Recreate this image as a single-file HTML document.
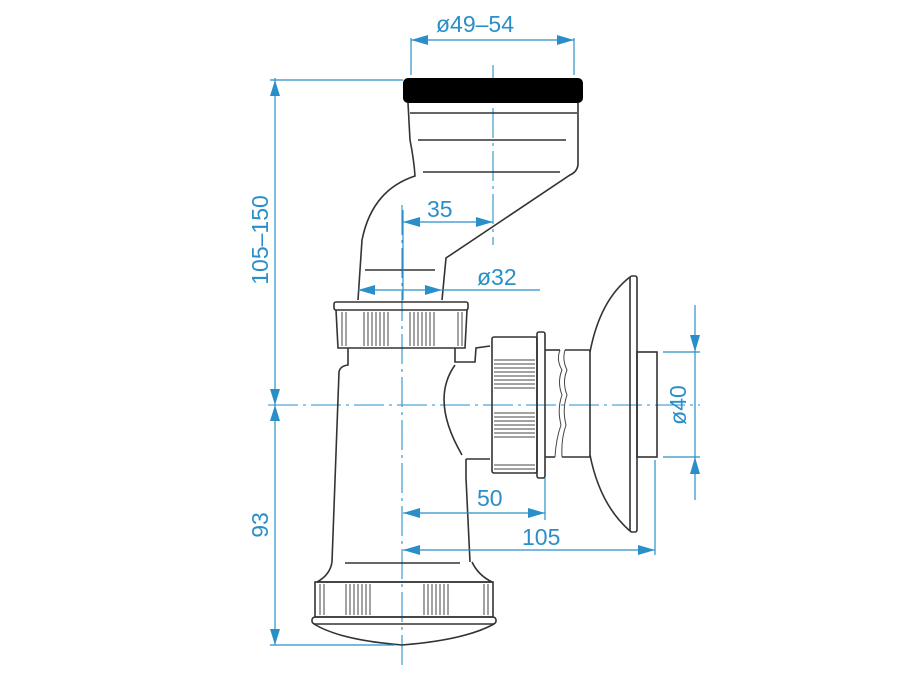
<!DOCTYPE html>
<html><head><meta charset="utf-8"><style>
html,body{margin:0;padding:0;background:#fff}
svg{display:block}
.k{fill:none;stroke:#333;stroke-width:1.6}
.t{fill:none;stroke:#444;stroke-width:1}
.b{fill:none;stroke:#2a8fc9;stroke-width:1.2}
.c{fill:none;stroke:#2a8fc9;stroke-width:1.1;stroke-dasharray:30 5 3 5}
.a{fill:#2a8fc9}
text{font-family:"Liberation Sans",sans-serif;fill:#2a8fc9;font-size:23px}
</style></head><body>
<svg width="900" height="675" viewBox="0 0 900 675" xmlns="http://www.w3.org/2000/svg">
<line class="c" x1="493" y1="65" x2="493" y2="245"/>
<line class="c" x1="402" y1="205" x2="402" y2="668"/>
<line class="c" x1="268" y1="405" x2="700" y2="405"/>

<rect x="403" y="78" width="180" height="25" rx="5" fill="#000"/>
<path class="k" d="M408 103 L410 140 Q414 160 415 176 Q372 190 362 240 L358 300"/>
<path class="k" d="M578 103 L578 165 Q577 172 570 175 L446 258 L442 300"/>
<line class="k" x1="410" y1="113" x2="577" y2="113"/>
<line class="k" x1="418" y1="140" x2="566" y2="140"/>
<line class="k" x1="423" y1="172" x2="560" y2="172"/>
<line class="k" x1="365" y1="270" x2="435" y2="270"/>

<rect class="k" x="334" y="302" width="134" height="8" rx="2"/>
<path class="k" d="M336 310 L338 348 L465 348 L467 310"/>
<g class="t">
<line x1="342" y1="312" x2="342" y2="346"/><line x1="346" y1="312" x2="346" y2="346"/>
<line x1="364" y1="312" x2="364" y2="346"/><line x1="368" y1="312" x2="368" y2="346"/><line x1="372" y1="312" x2="372" y2="346"/><line x1="376" y1="312" x2="376" y2="346"/><line x1="380" y1="312" x2="380" y2="346"/><line x1="384" y1="312" x2="384" y2="346"/><line x1="388" y1="312" x2="388" y2="346"/>
<line x1="410" y1="312" x2="410" y2="346"/><line x1="414" y1="312" x2="414" y2="346"/><line x1="418" y1="312" x2="418" y2="346"/><line x1="422" y1="312" x2="422" y2="346"/><line x1="426" y1="312" x2="426" y2="346"/><line x1="430" y1="312" x2="430" y2="346"/><line x1="434" y1="312" x2="434" y2="346"/>
<line x1="458" y1="312" x2="458" y2="346"/><line x1="462" y1="312" x2="462" y2="346"/>
</g>
<path class="k" d="M348 348 L348 365 Q340 366 339 372 L332 562"/>
<path class="k" d="M455 348 L455 362 L475 362 L476 348 L490 346"/>
<path class="k" d="M455 365 Q430 400 462 455"/>
<path class="k" d="M466 459 L466 478 L470 562"/>
<line class="k" x1="490" y1="459" x2="466" y2="459"/>
<line class="k" x1="345" y1="563" x2="460" y2="563"/>
<path class="k" d="M332 562 Q330 575 317 582 L492 582 Q478 575 472 562"/>
<rect class="k" x="315" y="582" width="178" height="35"/>
<rect class="k" x="312" y="617" width="184" height="7" rx="3"/>
<path class="k" d="M314 624 Q340 640 402 645 Q465 640 494 624"/>
<g class="t">
<line x1="320" y1="584" x2="320" y2="615"/><line x1="324" y1="584" x2="324" y2="615"/>
<line x1="346" y1="584" x2="346" y2="615"/><line x1="350" y1="584" x2="350" y2="615"/><line x1="354" y1="584" x2="354" y2="615"/><line x1="358" y1="584" x2="358" y2="615"/><line x1="362" y1="584" x2="362" y2="615"/><line x1="366" y1="584" x2="366" y2="615"/><line x1="370" y1="584" x2="370" y2="615"/>
<line x1="424" y1="584" x2="424" y2="615"/><line x1="428" y1="584" x2="428" y2="615"/><line x1="432" y1="584" x2="432" y2="615"/><line x1="436" y1="584" x2="436" y2="615"/><line x1="440" y1="584" x2="440" y2="615"/><line x1="444" y1="584" x2="444" y2="615"/><line x1="448" y1="584" x2="448" y2="615"/>
<line x1="484" y1="584" x2="484" y2="615"/><line x1="488" y1="584" x2="488" y2="615"/>
</g>

<rect class="k" x="492" y="337" width="45" height="136" rx="2"/>
<rect class="k" x="537" y="332" width="8" height="146" rx="2"/>
<g class="t">
<line x1="494" y1="360" x2="535" y2="360"/><line x1="494" y1="364" x2="535" y2="364"/><line x1="494" y1="368" x2="535" y2="368"/><line x1="494" y1="372" x2="535" y2="372"/><line x1="494" y1="376" x2="535" y2="376"/><line x1="494" y1="380" x2="535" y2="380"/><line x1="494" y1="384" x2="535" y2="384"/><line x1="494" y1="388" x2="535" y2="388"/>
<line x1="494" y1="413" x2="535" y2="413"/><line x1="494" y1="417" x2="535" y2="417"/><line x1="494" y1="421" x2="535" y2="421"/><line x1="494" y1="425" x2="535" y2="425"/><line x1="494" y1="429" x2="535" y2="429"/><line x1="494" y1="433" x2="535" y2="433"/><line x1="494" y1="437" x2="535" y2="437"/>
<line x1="494" y1="465" x2="535" y2="465"/><line x1="494" y1="469" x2="535" y2="469"/>
</g>
<line class="k" x1="545" y1="350" x2="560" y2="350"/>
<line class="k" x1="545" y1="457" x2="555" y2="457"/>
<line class="k" x1="565" y1="350" x2="590" y2="350"/>
<line class="k" x1="562" y1="457" x2="590" y2="457"/>
<path class="t" d="M560 350 q-4 10 2 20 q-5 12 0 25 q-5 14 -1 30 q-5 14 -6 32"/>
<path class="t" d="M565 350 q-3 10 2 20 q-5 12 0 25 q-5 14 -1 30 q-5 14 -4 32"/>
<line class="k" x1="590" y1="350" x2="590" y2="457"/>
<path class="k" d="M590 352 Q600 300 630 277"/>
<path class="k" d="M590 455 Q600 505 630 531"/>
<rect class="k" x="630" y="276" width="7" height="256" rx="2"/>
<rect class="k" x="637" y="352" width="20" height="105"/>

<g class="b">
<line x1="275" y1="78" x2="275" y2="645"/>
<line x1="270" y1="80" x2="403" y2="80"/>
<line x1="270" y1="645" x2="395" y2="645"/>
<line x1="411" y1="38" x2="411" y2="75"/><line x1="574" y1="38" x2="574" y2="75"/>
<line x1="411" y1="40" x2="574" y2="40"/>
<line x1="403" y1="210" x2="403" y2="300"/>
<line x1="403" y1="222" x2="493" y2="222"/>
<line x1="358" y1="290" x2="540" y2="290"/>
<line x1="403" y1="513" x2="545" y2="513"/>
<line x1="545" y1="478" x2="545" y2="520"/>
<line x1="403" y1="550" x2="655" y2="550"/>
<line x1="655" y1="460" x2="655" y2="555"/>
<line x1="695" y1="305" x2="695" y2="500"/>
<line x1="663" y1="352" x2="700" y2="352"/>
<line x1="663" y1="457" x2="700" y2="457"/>
</g>
<g class="a">
<polygon points="275,80 270,96 280,96"/>
<polygon points="275,405 270,389 280,389"/>
<polygon points="275,405 270,421 280,421"/>
<polygon points="275,645 270,629 280,629"/>
<polygon points="411,40 428,35 428,45"/><polygon points="574,40 557,35 557,45"/>
<polygon points="403,222 420,217 420,227"/><polygon points="493,222 476,217 476,227"/>
<polygon points="358,290 375,285 375,295"/><polygon points="442,290 425,285 425,295"/>
<polygon points="403,513 420,508 420,518"/><polygon points="545,513 528,508 528,518"/>
<polygon points="403,550 420,545 420,555"/><polygon points="655,550 638,545 638,555"/>
<polygon points="695,352 690,335 700,335"/><polygon points="695,457 690,474 700,474"/>
</g>
<text x="436" y="32">ø49–54</text>
<text x="427" y="217">35</text>
<text x="477" y="285">ø32</text>
<text x="477" y="506">50</text>
<text x="522" y="545">105</text>
<text transform="translate(268,240) rotate(-90)" text-anchor="middle">105–150</text>
<text transform="translate(268,525) rotate(-90)" text-anchor="middle">93</text>
<text transform="translate(686,405) rotate(-90)" text-anchor="middle">ø40</text>
</svg>
</body></html>
